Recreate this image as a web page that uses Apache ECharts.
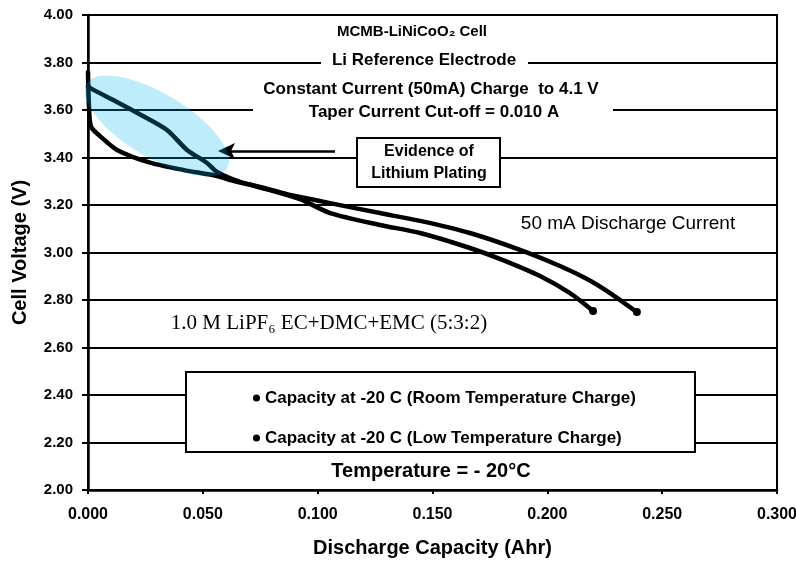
<!DOCTYPE html>
<html>
<head>
<meta charset="utf-8">
<script src="https://cdn.jsdelivr.net/npm/echarts@6/dist/echarts.min.js"></script>
<style>
  html, body { margin: 0; padding: 0; background: #fff; }
  #chart { width: 796px; height: 562px; }
</style>
</head>
<body>
<div id="chart"></div>
<script>
// Discharge capacity (Ahr) and cell voltage (V) at -20 C, 50 mA discharge
const capRoom  = [0.0000, 0.0004, 0.0013, 0.0057, 0.0126, 0.0274, 0.0418, 0.0562, 0.0618, 0.0749, 0.0880, 0.0923,
                  0.1054, 0.1271, 0.1446, 0.1663, 0.1881, 0.2055, 0.2173, 0.2273, 0.2390];
const voltRoom = [3.760, 3.620, 3.530, 3.486, 3.432, 3.377, 3.347, 3.322, 3.305, 3.276, 3.242, 3.234,
                  3.208, 3.166, 3.133, 3.082, 3.011, 2.943, 2.888, 2.829, 2.749];

const capLow   = [0.0000, 0.0012, 0.0126, 0.0231, 0.0344, 0.0431, 0.0518, 0.0562, 0.0662, 0.0792, 0.0923,
                  0.1054, 0.1271, 0.1446, 0.1663, 0.1807, 0.1968, 0.2099, 0.2199];
const voltLow  = [3.700, 3.691, 3.634, 3.579, 3.516, 3.432, 3.377, 3.339, 3.297, 3.263, 3.225,
                  3.166, 3.116, 3.082, 3.019, 2.968, 2.901, 2.829, 2.754];

const seriesNames = [
  'Capacity at -20 C (Room Temperature Charge)',
  'Capacity at -20 C (Low Temperature Charge)'
];

const xAxisRange = { min: 0, max: 0.3, interval: 0.05 };
const yAxisRange = { min: 2.0, max: 4.0, interval: 0.2 };

const SANS = '"Liberation Sans", Arial, sans-serif';
const SERIF = '"Liberation Serif", "Times New Roman", serif';

function toPairs(xs, ys) {
  return xs.map((x, i) => {
    const item = { value: [x, ys[i]] };
    // round end marker on the final point only
    if (i === xs.length - 1) { item.symbol = 'circle'; item.symbolSize = 8; }
    return item;
  });
}

function lineSeries(name, xs, ys) {
  return {
    name: name,
    type: 'line',
    data: toPairs(xs, ys),
    smooth: 0.25,
    symbol: 'none',
    showSymbol: true,
    showAllSymbol: true,
    itemStyle: { color: '#000' },
    lineStyle: { color: '#000', width: 4.5, cap: 'round', join: 'round' },
    z: 3,
    animation: false
  };
}

const chart = echarts.init(document.getElementById('chart'), null, { renderer: 'canvas' });

chart.setOption({
  animation: false,
  backgroundColor: '#fff',
  grid: {
    left: 88, right: 19, top: 15, bottom: 72,
    show: true, borderColor: '#000', borderWidth: 2,
    containLabel: false, outerBoundsMode: 'none'
  },
  xAxis: {
    type: 'value',
    min: xAxisRange.min, max: xAxisRange.max, interval: xAxisRange.interval,
    name: 'Discharge Capacity (Ahr)',
    nameLocation: 'middle',
    nameGap: 48,
    nameTextStyle: { fontFamily: SANS, fontWeight: 'bold', fontSize: 20, color: '#000' },
    axisLine: { show: true, onZero: false, lineStyle: { color: '#000', width: 2.5 } },
    axisTick: { show: true, inside: false, length: 4, lineStyle: { color: '#000', width: 2 } },
    axisLabel: {
      margin: 17, color: '#000', fontFamily: SANS, fontWeight: 'bold', fontSize: 16,
      formatter: v => v.toFixed(3)
    },
    splitLine: { show: false }
  },
  yAxis: {
    type: 'value',
    min: yAxisRange.min, max: yAxisRange.max, interval: yAxisRange.interval,
    name: 'Cell Voltage (V)',
    nameLocation: 'middle',
    nameGap: 58,
    nameRotate: 90,
    nameTextStyle: { fontFamily: SANS, fontWeight: 'bold', fontSize: 20, color: '#000' },
    axisLine: { show: true, onZero: false, lineStyle: { color: '#000', width: 2.5 } },
    axisTick: { show: true, inside: false, length: 6, lineStyle: { color: '#000', width: 2 } },
    axisLabel: {
      margin: 15, color: '#000', fontFamily: SANS, fontWeight: 'bold', fontSize: 15,
      formatter: v => v.toFixed(2)
    },
    splitLine: { show: true, lineStyle: { color: '#000', width: 2 } }
  },
  legend: {
    data: seriesNames,
    orient: 'vertical',
    left: 248,
    top: 384,
    itemWidth: 7,
    itemHeight: 7,
    itemGap: 22,
    icon: 'circle',
    selectedMode: false,
    textStyle: { fontFamily: SANS, fontWeight: 'bold', fontSize: 17, color: '#000', lineHeight: 18 },
    z: 20
  },
  series: [
    lineSeries(seriesNames[0], capRoom, voltRoom),
    lineSeries(seriesNames[1], capLow, voltLow)
  ]
});

// Annotations: white masks behind text, labels, callout box and arrow, highlight ellipse
function txt(text, x, y, font, extra) {
  return Object.assign({
    type: 'text', x: x, y: y, z: 15,
    style: { text: text, font: font, fill: '#000', align: 'center', verticalAlign: 'middle' }
  }, extra || {});
}
function mask(x, y, w, h) {
  return { type: 'rect', z: 12, shape: { x: x, y: y, width: w, height: h }, style: { fill: '#fff' } };
}

const plating = chart.convertToPixel({ gridIndex: 0 }, [0.030, 3.533]);

chart.setOption({
  graphic: [
    mask(321, 50, 207, 20),
    mask(253, 78, 360, 44),
    txt('MCMB-LiNiCoO\u2082 Cell', 412, 32, 'bold 15px ' + SANS),
    txt('Li Reference Electrode', 424, 60, 'bold 17px ' + SANS),
    txt('Constant Current (50mA) Charge  to 4.1 V', 431, 89, 'bold 17px ' + SANS),
    txt('Taper Current Cut-off = 0.010 A', 434, 112, 'bold 17px ' + SANS),
    // callout box
    { type: 'rect', z: 13, shape: { x: 357, y: 138, width: 143, height: 49 },
      style: { fill: '#fff', stroke: '#000', lineWidth: 2 } },
    txt('Evidence of', 429, 152, 'bold 16px ' + SANS),
    txt('Lithium Plating', 429, 174, 'bold 16px ' + SANS),
    // arrow pointing at the plating region
    { type: 'line', z: 13, shape: { x1: 335, y1: 151.5, x2: 228, y2: 151.5 },
      style: { stroke: '#000', lineWidth: 2.5 } },
    { type: 'polygon', z: 13, shape: { points: [[218, 151], [235, 143], [231, 151], [235, 159]] },
      style: { fill: '#000' } },
    txt('50 mA Discharge Current', 628, 224, '19px ' + SANS),
    txt('1.0 M LiPF\u2086 EC+DMC+EMC (5:3:2)', 329, 323, '21px ' + SERIF),
    // legend frame
    { type: 'rect', z: 12, shape: { x: 186, y: 372, width: 509, height: 80 },
      style: { fill: '#fff', stroke: '#000', lineWidth: 2 } },
    txt('Temperature = - 20\u00b0C', 431, 471, 'bold 20px ' + SANS),
    // translucent highlight over the plating plateau
    { type: 'ellipse', z: 30, x: plating[0], y: plating[1], rotation: -31 * Math.PI / 180,
      shape: { cx: 0, cy: 0, rx: 82, ry: 32 },
      style: { fill: 'rgba(0,178,238,0.25)' } }
  ]
});
</script>
</body>
</html>
